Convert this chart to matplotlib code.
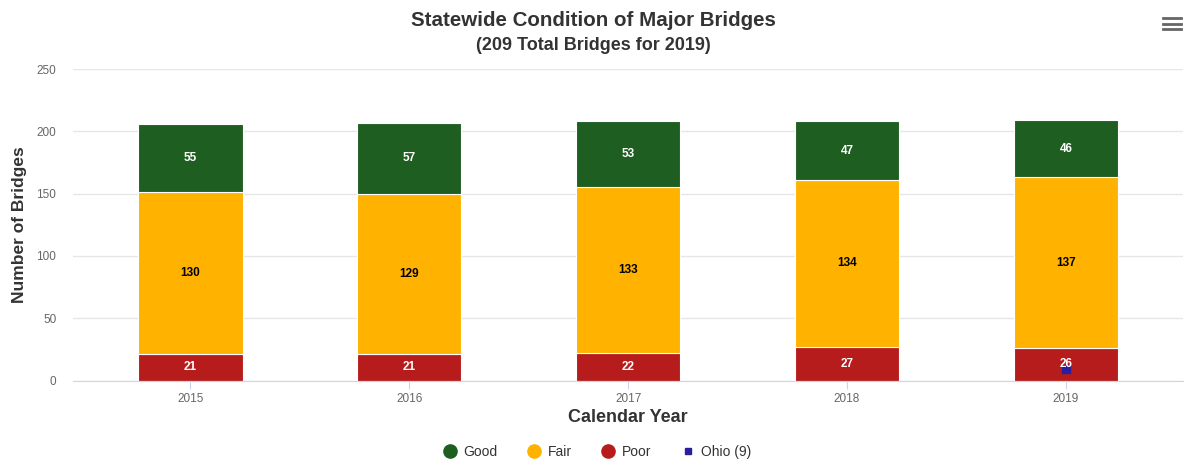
import matplotlib
matplotlib.use("Agg")
import matplotlib.pyplot as plt
from matplotlib.lines import Line2D
import numpy as np

plt.rcParams['font.family'] = ['Liberation Sans', 'DejaVu Sans']

years = ["2015", "2016", "2017", "2018", "2019"]
poor = [21, 21, 22, 27, 26]
fair = [130, 129, 133, 134, 137]
good = [55, 57, 53, 47, 46]
ohio_year_index = 4
ohio_value = 9

c_good = "#1e5e21"
c_fair = "#ffb300"
c_poor = "#b71c1c"
c_ohio = "#2a1d9e"

W, H = 1186, 461
fig = plt.figure(figsize=(W / 100, H / 100), dpi=100)
left, right, top, bottom = 73, 1183, 69, 380.5
ax = fig.add_axes([left / W, 1 - bottom / H, (right - left) / W, (bottom - top) / H])

x = np.arange(len(years))
bw = 0.476
poor_a = np.array(poor)
fair_a = np.array(fair)
good_a = np.array(good)

ax.bar(x, poor_a, bw, color=c_poor, edgecolor="white", linewidth=0.8, zorder=2)
ax.bar(x, fair_a, bw, bottom=poor_a, color=c_fair, edgecolor="white", linewidth=0.8, zorder=2)
ax.bar(x, good_a, bw, bottom=poor_a + fair_a, color=c_good, edgecolor="white", linewidth=0.8, zorder=2)

ax.scatter([x[ohio_year_index]], [ohio_value], marker="s", s=30, color=c_ohio, zorder=3)

for i in range(len(years)):
    ax.text(x[i], poor_a[i] / 2, str(poor[i]), ha="center", va="center", color="white",
            fontsize=8.5, fontweight="bold", zorder=4)
    ax.text(x[i], poor_a[i] + fair_a[i] / 2, str(fair[i]), ha="center", va="center", color="black",
            fontsize=8.5, fontweight="bold", zorder=4)
    ax.text(x[i], poor_a[i] + fair_a[i] + good_a[i] / 2, str(good[i]), ha="center", va="center",
            color="white", fontsize=8.5, fontweight="bold", zorder=4)

ax.set_ylim(0, 250)
ax.set_yticks([0, 50, 100, 150, 200, 250])
ax.set_xlim(-0.5366, 4.535)
ax.set_xticks(x)
ax.set_xticklabels(years)

for s in ["top", "right", "left"]:
    ax.spines[s].set_visible(False)
ax.spines["bottom"].set_color("#ccd6eb")
ax.grid(axis="y", color="#e6e6e6", linewidth=1, zorder=0)
ax.set_axisbelow(True)
ax.tick_params(axis="y", length=0, labelsize=8.5, labelcolor="#666666", pad=12)
ax.tick_params(axis="x", length=6, color="#ccd6eb", labelsize=8.5, labelcolor="#666666", pad=3)

ax.set_xlabel("Calendar Year", fontsize=13, fontweight="bold", color="#333333", labelpad=3)
ax.set_ylabel("Number of Bridges", fontsize=12.5, fontweight="bold", color="#333333", labelpad=7)

fig.text(0.5, 1 - 20 / H, "Statewide Condition of Major Bridges", ha="center", va="center",
         fontsize=14.8, fontweight="bold", color="#333333")
fig.text(0.5, 1 - 45 / H, "(209 Total Bridges for 2019)", ha="center", va="center",
         fontsize=13, fontweight="bold", color="#333333")

# menu icon
for yy in [18, 24, 29.5]:
    fig.add_artist(Line2D([1163 / W, 1181 / W], [1 - yy / H, 1 - yy / H], color="#666666",
                          linewidth=2.0, transform=fig.transFigure))

handles = [
    Line2D([], [], marker="o", linestyle="none", markersize=9.5, color=c_good),
    Line2D([], [], marker="o", linestyle="none", markersize=9.5, color=c_fair),
    Line2D([], [], marker="o", linestyle="none", markersize=9.5, color=c_poor),
    Line2D([], [], marker="s", linestyle="none", markersize=5, color=c_ohio),
]
leg = fig.legend(handles, ["Good", "Fair", "Poor", "Ohio (9)"], loc="center", ncol=4,
                 bbox_to_anchor=(0.503, 1 - 452 / H), frameon=False, fontsize=10,
                 handletextpad=0.4, columnspacing=2.0, handlelength=1.2)
for t in leg.get_texts():
    t.set_color("#333333")

fig.savefig("out.png", dpi=100)
